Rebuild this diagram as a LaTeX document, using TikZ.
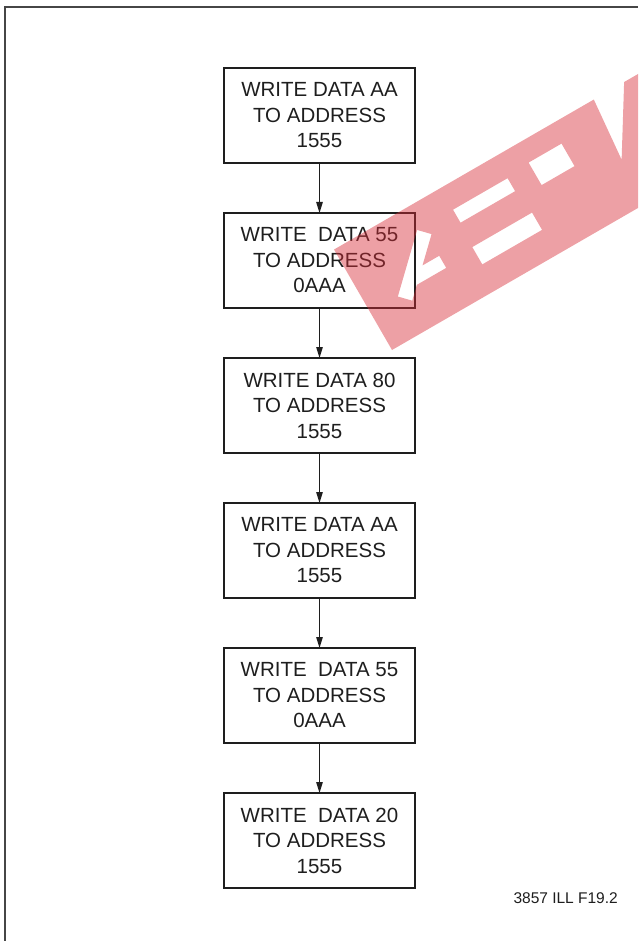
\documentclass[tikz,border=0pt]{standalone}
\usepackage{fontspec}
\setmainfont{Liberation Sans}
\usetikzlibrary{positioning,arrows.meta}
\definecolor{inkgray}{RGB}{30,30,30}
\definecolor{framegray}{RGB}{70,70,70}
\definecolor{wmred}{RGB}{215,45,55}
\tikzset{
  writebox/.style={draw=inkgray,line width=2.8pt,outer sep=0pt,
    minimum width=191pt,minimum height=95pt,align=center,
    text=inkgray,font=\fontsize{20.5}{25.5}\selectfont},
  flow/.style={draw=inkgray,line width=1pt,-{Triangle[length=11pt,width=6.5pt]}},
  wmark/.style={fill=wmred,fill opacity=0.45,even odd rule},
}

\begin{document}
\begin{tikzpicture}[x=1pt,y=1pt,node distance=50pt]
\useasboundingbox (0,0) rectangle (638,-941);
\draw[framegray,line width=1.3pt] (5,-941) -- (5,-7) -- (638,-7);
% program sequence
\node[writebox] (aa1) at (319.5,-115.5) {WRITE DATA AA\\TO ADDRESS\\1555};
\node[writebox,below=of aa1] (d55a) {WRITE~ DATA 55\\TO ADDRESS\\0AAA};
\node[writebox,below=of d55a] (d80) {WRITE DATA 80\\TO ADDRESS\\1555};
\node[writebox,below=of d80] (aa2) {WRITE DATA AA\\TO ADDRESS\\1555};
\node[writebox,below=of aa2] (d55b) {WRITE~ DATA 55\\TO ADDRESS\\0AAA};
\node[writebox,below=of d55b] (d20) {WRITE~ DATA 20\\TO ADDRESS\\1555};
\draw[flow] (aa1) -- (d55a);
\draw[flow] (d55a) -- (d80);
\draw[flow] (d80) -- (aa2);
\draw[flow] (aa2) -- (d55b);
\draw[flow] (d55b) -- (d20);
\node[font=\fontsize{15.5}{18}\selectfont,text=inkgray,inner sep=0pt,anchor=base east] (ill) at (618,-903.5) {3857 ILL F19.2};
% watermark
\begin{scope}
\clip (0,0) rectangle (638,-941);
\begin{scope}[shift={(392,-350)},rotate=30]
\fill[wmark] (0,0) -- (430,0) -- (430,116) -- (335,116) -- (294,50) -- (300,116) -- (0,116) -- cycle
  (31.8,43.4) -- (42.2,32.6) -- (54.1,44) -- (88,44) -- (88,58) -- (68.7,58) -- (92.2,80.6) -- (81.8,91.4) -- cycle
  (123,76) rectangle (186,91)
  (121,29) rectangle (190,49)
  (212,68) rectangle (250,94);
\end{scope}
\end{scope}
\end{tikzpicture}
\end{document}
